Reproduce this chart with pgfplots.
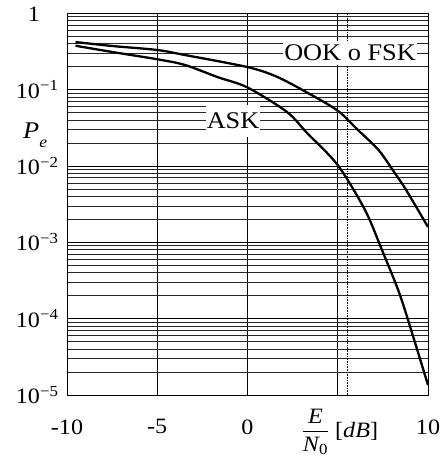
\documentclass[border=0pt]{standalone}
\usepackage{pgfplots}
\pgfplotsset{compat=1.18}
\usepackage{amsmath}
\usepackage{fontspec}
\setmainfont[FakeStretch=1.1]{Liberation Serif}

\begin{document}
\begin{tikzpicture}
\path[use as bounding box] (0,0) rectangle (444bp,463bp);
\begin{axis}[
  at={(67bp,68bp)}, anchor=south west,
  scale only axis, width=361bp, height=382bp,
  ymode=log, xmin=-10, xmax=10, ymin=1e-5, ymax=1,
  xtick={-10,-5,0,5,10}, xticklabels={-10,-5,0,,10},
  ytick={1e-5,1e-4,1e-3,1e-2,1e-1,1},
  yticklabels={10\textsuperscript{−5},10\textsuperscript{−4},10\textsuperscript{−3},10\textsuperscript{−2},10\textsuperscript{−1},1\phantom{\textsuperscript{−1}}},
  major tick length=0pt, minor tick length=0pt,
  grid=both,
  minor x tick num=0,
  major grid style={black, line width=0.6bp},
  minor grid style={black!85, line width=0.5bp},
  axis line style={black, line width=0.6bp},
  tick label style={font=\fontsize{22}{26}\selectfont},
  xticklabel style={yshift=-21bp},
  yticklabel style={xshift=-5bp},
  clip=false,
]
\addplot[densely dotted, black, line width=0.6bp, forget plot] coordinates {(5.55,1e-5) (5.55,1)};

% OOK o FSK
\addplot[black, line width=2.3bp, smooth] coordinates {
(-9.53,0.417) (-7.5,0.37) (-5,0.328) (-3.47,0.282) (0,0.196) (1.61,0.147)
(3.30,0.091) (5,0.0526) (6.12,0.0294) (7.26,0.0161) (8.12,0.0083)
(8.79,0.00482) (10,0.00158)};

% ASK
\addplot[black, line width=2.3bp, smooth] coordinates {
(-9.53,0.373) (-7.5,0.309) (-5,0.248) (-3.47,0.209) (-1.66,0.145) (0,0.106)
(2.17,0.051) (3.30,0.0269) (5,0.0102) (6.51,0.00264) (7.45,7.9e-4)
(8.40,2.19e-4) (9.16,6.0e-5) (10,1.35e-5)};

\node[fill=white, inner xsep=1bp, inner ysep=4bp, font=\fontsize{24}{28}\selectfont]
  at (rel axis cs:0.784,0.895) {OOK o FSK};
\node[fill=white, inner xsep=1bp, inner ysep=8bp, font=\fontsize{24}{28}\selectfont]
  at (rel axis cs:0.46,0.717) {ASK};
\node[anchor=base west, inner sep=0pt, font=\fontsize{24}{28}\selectfont]
  at (rel axis cs:0,0.672) [xshift=-44bp] {\textit{P}\raisebox{-9bp}{\fontsize{16}{18}\selectfont\textit{e}}};
\node[anchor=base, inner sep=0pt, font=\fontsize{22}{26}\selectfont]
  at (rel axis cs:0.756,0) [yshift=-42bp] {$\displaystyle\frac{\textit{E}}{\textit{N}_{\text{0}}}$\ [\textit{dB}]};
\end{axis}
\end{tikzpicture}
\end{document}
